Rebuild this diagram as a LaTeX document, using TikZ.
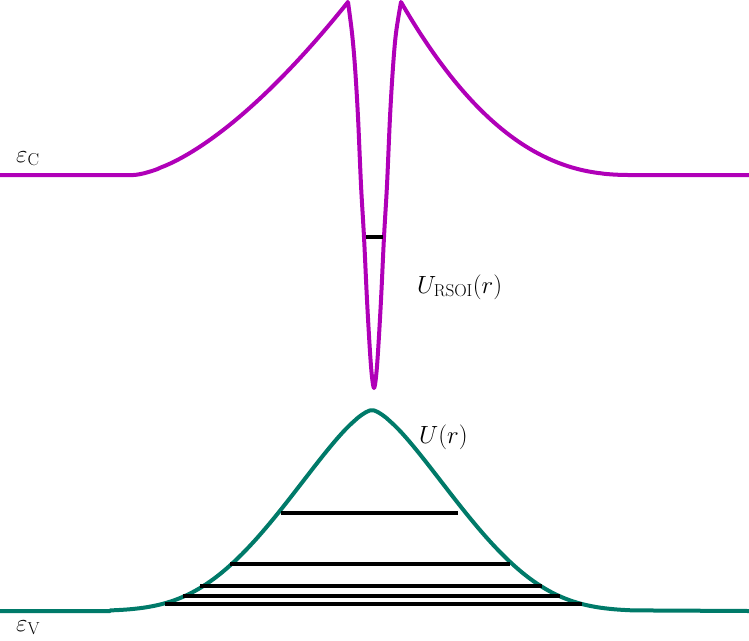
\documentclass[tikz,border=0pt]{standalone}
\usepackage{amsmath}
\definecolor{cband}{RGB}{176,0,184}
\definecolor{vband}{RGB}{0,122,105}
\begin{document}
\begin{tikzpicture}[x={(1pt,0)},y={(0,-1pt)},
  bandline/.style={line width=4pt,line join=round,line cap=butt},
  level/.style={line width=4.2pt,black},
  lbl/.style={inner sep=0pt,font=\fontsize{26}{30}\selectfont}]
\useasboundingbox (0,0) rectangle (749,640);
% conduction band with RSOI well
\draw[bandline,cband] (0,175) -- (133,175)
  -- plot[domain=133.5:348,samples=80,variable=\t] (\t,{175-173*(1-(348-\t)/215)^1.55})
  -- plot[smooth,tension=0.55] coordinates {(348,2) (352,33) (355,67) (358,117) (361,185) (364,237) (367,300) (370,352) (372,377) (374,388) (376,377) (378,352) (381,300) (384,237) (387,185) (390,117) (393,67) (396,33) (401,2)}
  -- plot[domain=401:630.5,samples=80,variable=\t] (\t,{175-173*(1-(\t-401)/230)^2.3})
  -- (749,175);
% valence band
\draw[bandline,vband] (0,611) -- (110,611)
  -- plot[domain=110.5:633.5,samples=132,variable=\t] (\t,{410+201*(1-exp(-(abs(\t-372)/122)^1.5-(abs(\t-372)/205)^4))})
  -- (749,611);
% levels
\draw[level] (366,237) -- (383,237);
\draw[level] (281,513) -- (458,513);
\draw[level] (230,564) -- (510,564);
\draw[level] (200,586) -- (542,586);
\draw[level] (183,596) -- (560,596);
\draw[level] (165,604) -- (582,604);
% labels
\node[lbl,anchor=base west] (ec) at (16,162) {$\varepsilon_{\mathrm{C}}$};
\node[lbl,anchor=base west] (ev) at (16,631) {$\varepsilon_{\mathrm{V}}$};
\node[lbl,anchor=base west] (ursoi) at (417,293) {$U_{\mathrm{RSOI}}(r)$};
\node[lbl,anchor=base west] (ur) at (419,443) {$U(r)$};
\end{tikzpicture}
\end{document}
